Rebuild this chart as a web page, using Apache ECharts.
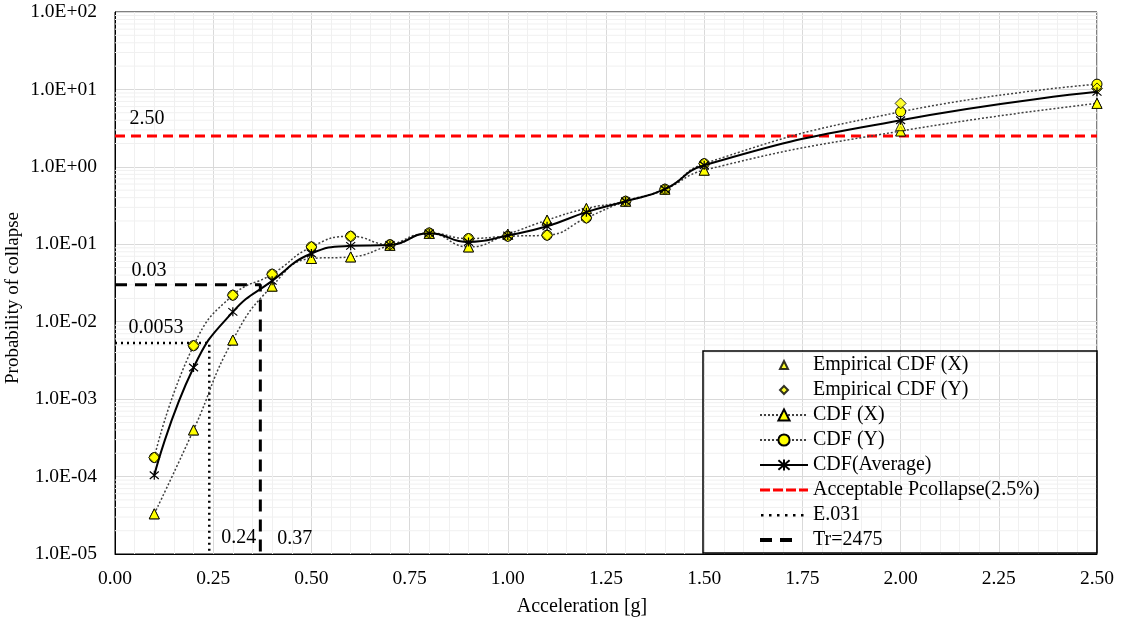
<!DOCTYPE html>
<html>
<head>
<meta charset="utf-8">
<script src="https://cdn.jsdelivr.net/npm/echarts@6/dist/echarts.min.js"></script>
<style>
  html, body { margin: 0; padding: 0; background: #fff; }
  #chart { width: 1122px; height: 634px; }
</style>
</head>
<body>
<div id="chart"></div>
<script>
// values
const accel = [0.1, 0.2, 0.3, 0.4, 0.5, 0.6, 0.7, 0.8, 0.9, 1.0, 1.1, 1.2, 1.3, 1.4, 1.5, 2.0, 2.5];
const cdfX = [3.3e-5, 4.0e-4, 5.8e-3, 0.0288, 0.0655, 0.0687, 0.097, 0.138, 0.0925, 0.135, 0.205, 0.29, 0.36, 0.515, 0.906, 2.9, 6.6];
const cdfY = [1.76e-4, 4.9e-3, 0.022, 0.0411, 0.0925, 0.127, 0.099, 0.14, 0.1186, 0.127, 0.131, 0.219, 0.36, 0.515, 1.1, 5.14, 11.7];
const cdfAvg = [1.04e-4, 2.56e-3, 0.0134, 0.0337, 0.076, 0.0954, 0.098, 0.139, 0.107, 0.13, 0.171, 0.26, 0.36, 0.515, 1.05, 4.0, 9.3];
const empX = [3.3e-5, 4.0e-4, 5.8e-3, 0.0288, 0.0655, 0.0687, 0.097, 0.138, 0.0925, 0.135, 0.205, 0.29, 0.36, 0.515, 0.906, 3.4, 6.6];
const empY = [1.76e-4, 4.9e-3, 0.022, 0.0411, 0.0925, 0.127, 0.099, 0.14, 0.1186, 0.127, 0.131, 0.219, 0.36, 0.515, 1.1, 6.6, 10.3];

const pAccept = 2.5;      // %
const e031 = [0.24, 0.0053];
const tr2475 = [0.37, 0.03];
const yMin = 1e-5, yMax = 100;

const font = 'Liberation Serif';
const pair = (xs, ys) => xs.map((x, i) => [x, ys[i]]);

function sci(v) {
  const e = Math.round(Math.log10(v));
  return '1.0E' + (e < 0 ? '-' : '+') + String(Math.abs(e)).padStart(2, '0');
}

// minor log grid lines 2..9 of every decade
const minorY = [];
for (let d = -5; d < 2; d++) {
  for (let k = 2; k <= 9; k++) minorY.push(k * Math.pow(10, d));
}

const star = 'path://M0,0L10,10M10,0L0,10M5,-1L5,11';
const yellow = { color: '#ffff00', borderColor: '#000', borderWidth: 1 };
const dotted = { color: '#404040', width: 1.5, type: [2, 2] };

// legend icons (48x14 box)
const box = 'M0,0M48,0M48,14M0,14';
const icons = {
  tri: 'path://' + box + 'M20,11L24,3L28,11Z',
  dia: 'path://' + box + 'M24,3L28,7L24,11L20,7Z',
  red: 'path://' + box + 'M0,5.5L10,5.5L10,8.5L0,8.5ZM13,5.5L23,5.5L23,8.5L13,8.5ZM26,5.5L36,5.5L36,8.5L26,8.5ZM39,5.5L48,5.5L48,8.5L39,8.5Z',
  dots: 'path://' + box + 'M1,6L3.5,6L3.5,8.5L1,8.5ZM9,6L11.5,6L11.5,8.5L9,8.5ZM17,6L19.5,6L19.5,8.5L17,8.5ZM25,6L27.5,6L27.5,8.5L25,8.5ZM33,6L35.5,6L35.5,8.5L33,8.5ZM41,6L43.5,6L43.5,8.5L41,8.5Z',
  dash: 'path://' + box + 'M0,5L12,5L12,9L0,9ZM20,5L32,5L32,9L20,9Z'
};

const chart = echarts.init(document.getElementById('chart'));
chart.setOption({
  animation: false,
  textStyle: { fontFamily: font, color: '#000' },
  grid: { left: 115, right: 25, top: 12, bottom: 80, show: true, borderColor: '#000', borderWidth: 1,
    containLabel: false, outerBoundsMode: 'none' },
  xAxis: {
    type: 'value', min: 0, max: 2.5, interval: 0.25,
    name: 'Acceleration [g]', nameLocation: 'middle', nameGap: 43, nameMoveOverlap: false,
    nameTextStyle: { fontFamily: font, fontSize: 20, color: '#000', padding: [0, 48, 0, 0] },
    axisLine: { lineStyle: { color: '#000' } },
    axisTick: { show: false },
    axisLabel: { fontFamily: font, fontSize: 19.5, color: '#000', margin: 15, formatter: v => v.toFixed(2) },
    splitLine: { lineStyle: { color: '#d9d9d9' } },
    minorTick: { show: false, splitNumber: 5 },
    minorSplitLine: { show: true, lineStyle: { color: '#f0f0f0' } }
  },
  yAxis: {
    type: 'log', logBase: 10, min: yMin, max: yMax,
    name: 'Probability of collapse', nameLocation: 'middle', nameGap: 92, nameMoveOverlap: false,
    nameTextStyle: { fontFamily: font, fontSize: 19, color: '#000', padding: [0, 30, 0, 0] },
    axisLine: { show: true, lineStyle: { color: '#000' } },
    axisTick: { show: false },
    axisLabel: { fontFamily: font, fontSize: 19.5, color: '#000', margin: 18, formatter: sci },
    splitLine: { lineStyle: { color: '#d9d9d9' } }
  },
  legend: {
    orient: 'vertical', left: 759, top: 355, padding: 0,
    itemWidth: 48, itemHeight: 14, itemGap: 5,
    textStyle: { fontFamily: font, fontSize: 20, lineHeight: 20, color: '#000' },
    data: [
      { name: 'Empirical CDF (X)', icon: icons.tri },
      { name: 'Empirical CDF (Y)', icon: icons.dia },
      'CDF (X)', 'CDF (Y)', 'CDF(Average)',
      { name: 'Acceptable Pcollapse(2.5%)', icon: icons.red },
      { name: 'E.031', icon: icons.dots },
      { name: 'Tr=2475', icon: icons.dash }
    ]
  },
  graphic: [{
    type: 'rect', z: 10, silent: true,
    shape: { x: 703, y: 351, width: 394, height: 202 },
    style: { fill: 'none', stroke: '#000', lineWidth: 1.5 }
  }],
  series: [
    {
      name: 'minor', type: 'custom', silent: true, z: 1,
      data: minorY.map(v => [0, v]),
      renderItem: (params, api) => {
        const y = api.value(1);
        const a = api.coord([0, y]);
        const b = api.coord([2.5, y]);
        return { type: 'line', shape: { x1: a[0], y1: a[1], x2: b[0], y2: b[1] },
          style: { stroke: '#f0f0f0', lineWidth: 1 } };
      }
    },
    {
      name: 'Acceptable Pcollapse(2.5%)', type: 'line', symbol: 'none', z: 3,
      lineStyle: { color: '#ff0000', width: 3, type: [10, 6] },
      itemStyle: { color: '#ff0000' },
      data: [[0, pAccept], [2.5, pAccept]],
      markPoint: { symbol: 'circle', symbolSize: 0,
        label: { show: true, fontFamily: font, fontSize: 20, color: '#000', position: 'top', offset: [32, -2], formatter: pAccept.toFixed(2) },
        data: [{ coord: [0, pAccept] }] }
    },
    {
      name: 'E.031', type: 'line', symbol: 'none', z: 3,
      lineStyle: { color: '#000', width: 2.5, type: [2, 4] },
      itemStyle: { color: '#000' },
      data: [[0, e031[1]], [e031[0], e031[1]], [e031[0], yMin]],
      markPoint: { symbol: 'circle', symbolSize: 0,
        label: { show: true, fontFamily: font, fontSize: 20, color: '#000' },
        data: [
          { coord: [0, e031[1]], label: { position: 'top', offset: [41, 0], formatter: String(e031[1]) } },
          { coord: [e031[0], yMin], label: { position: 'right', offset: [7, -16], formatter: e031[0].toFixed(2) } }
        ] }
    },
    {
      name: 'Tr=2475', type: 'line', symbol: 'none', z: 3,
      lineStyle: { color: '#000', width: 3, type: [12, 8] },
      itemStyle: { color: '#000' },
      data: [[0, tr2475[1]], [tr2475[0], tr2475[1]], [tr2475[0], yMin]],
      markPoint: { symbol: 'circle', symbolSize: 0,
        label: { show: true, fontFamily: font, fontSize: 20, color: '#000' },
        data: [
          { coord: [0, tr2475[1]], label: { position: 'top', offset: [34, 1], formatter: String(tr2475[1]) } },
          { coord: [tr2475[0], yMin], label: { position: 'right', offset: [12, -15], formatter: tr2475[0].toFixed(2) } }
        ] }
    },
    {
      name: 'CDF (X)', type: 'line', smooth: true, symbol: 'triangle', symbolSize: 10, z: 4,
      lineStyle: dotted, itemStyle: yellow,
      data: pair(accel, cdfX)
    },
    {
      name: 'CDF (Y)', type: 'line', smooth: true, symbol: 'circle', symbolSize: 10, z: 4,
      lineStyle: dotted, itemStyle: yellow,
      data: pair(accel, cdfY)
    },
    {
      name: 'CDF(Average)', type: 'line', smooth: true, symbol: star, symbolSize: 9, z: 5,
      lineStyle: { color: '#000', width: 2 },
      itemStyle: { color: '#000', borderColor: '#000', borderWidth: 1.2 },
      data: pair(accel, cdfAvg)
    },
    {
      name: 'Empirical CDF (X)', type: 'scatter', symbol: 'triangle', symbolSize: 10, z: 4,
      itemStyle: yellow,
      data: pair(accel, empX)
    },
    {
      name: 'Empirical CDF (Y)', type: 'scatter', symbol: 'diamond', symbolSize: 11, z: 4,
      itemStyle: yellow,
      data: pair(accel, empY)
    }
  ]
});
</script>
</body>
</html>
